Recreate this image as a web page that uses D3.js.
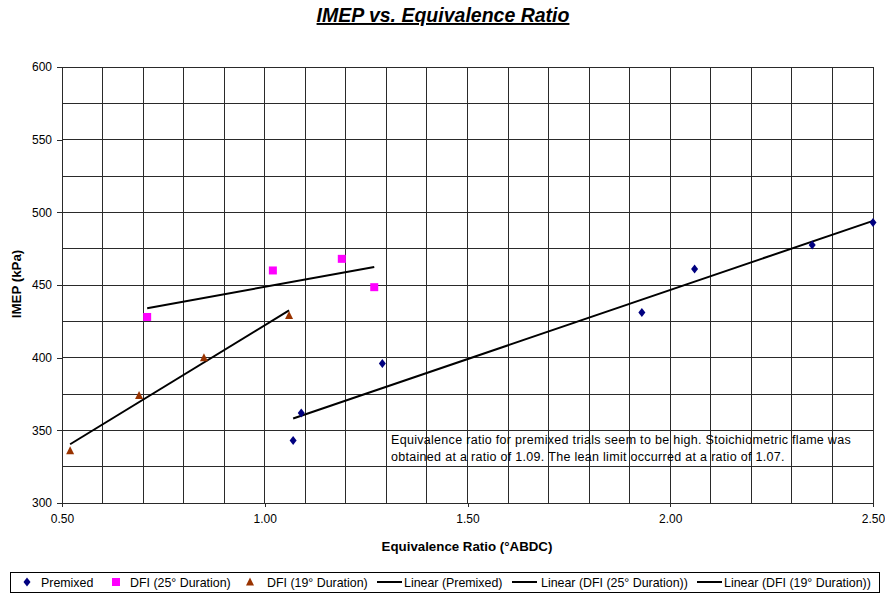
<!DOCTYPE html>
<html>
<head>
<meta charset="utf-8">
<script src="https://cdn.jsdelivr.net/npm/d3@7"></script>
<style>
  html, body { margin: 0; padding: 0; background: #fff; }
  svg { display: block; font-family: "Liberation Sans", Arial, sans-serif; }
</style>
</head>
<body>
<svg id="chart" width="885" height="594"></svg>
<script>
// Premixed trials
const premixedPhi  = [1.07, 1.09, 1.29, 1.93, 2.06, 2.35, 2.50];
const premixedImep = [343, 362, 396, 431, 461, 477.5, 493];
// Direct fuel injection, 25° injection duration
const dfi25Phi  = [0.71, 1.02, 1.19, 1.27];
const dfi25Imep = [428, 460, 468, 448.5];
// Direct fuel injection, 19° injection duration
const dfi19Phi  = [0.52, 0.69, 0.85, 1.06];
const dfi19Imep = [336, 374, 400, 429];

const xTicks = [0.5, 1.0, 1.5, 2.0, 2.5];
const yTicks = [300, 350, 400, 450, 500, 550, 600];
const legendLabels = ["Premixed", "DFI (25° Duration)", "DFI (19° Duration)",
  "Linear (Premixed)", "Linear (DFI (25° Duration))", "Linear (DFI (19° Duration))"];

const svg = d3.select("#chart");
const plot = { left: 62, right: 873, top: 67, bottom: 503 };

const x = d3.scaleLinear().domain([0.5, 2.5]).range([plot.left, plot.right]);
const y = d3.scaleLinear().domain([300, 600]).range([plot.bottom, plot.top]);

// Grid: vertical every 0.1, horizontal every 25 kPa
const grid = svg.append("g").attr("stroke", "#2a2a2a").attr("stroke-width", 1).attr("shape-rendering", "crispEdges");
d3.range(0, 21).map(i => 0.5 + i * 0.1).forEach(v => {
  grid.append("line").attr("x1", x(v)).attr("x2", x(v)).attr("y1", plot.top).attr("y2", plot.bottom);
});
d3.range(300, 601, 25).forEach(v => {
  grid.append("line").attr("x1", plot.left).attr("x2", plot.right).attr("y1", y(v)).attr("y2", y(v));
});

// Axes
const xAxis = svg.append("g").attr("transform", `translate(0,${plot.bottom})`)
  .call(d3.axisBottom(x).tickValues(xTicks).tickFormat(d3.format(".2f")).tickSize(4).tickPadding(7));
const yAxis = svg.append("g").attr("transform", `translate(${plot.left},0)`)
  .call(d3.axisLeft(y).tickValues(yTicks).tickFormat(d3.format("d")).tickSize(5).tickPadding(5));
[xAxis, yAxis].forEach(a => {
  a.select(".domain").attr("stroke", "#2a2a2a").attr("shape-rendering", "crispEdges");
  a.selectAll(".tick line").attr("stroke", "#2a2a2a").attr("shape-rendering", "crispEdges");
  a.selectAll("text").attr("font-size", 12).attr("fill", "#000")
    .attr("font-family", "'Liberation Sans', Arial, sans-serif");
});

// Least-squares trendline over the x-range of each series
function trend(xs, ys) {
  const mx = d3.mean(xs), my = d3.mean(ys);
  const sxy = d3.sum(xs, (v, i) => (v - mx) * (ys[i] - my));
  const sxx = d3.sum(xs, v => (v - mx) * (v - mx));
  const b = sxy / sxx, a = my - b * mx;
  const x0 = d3.min(xs), x1 = d3.max(xs);
  return [[x0, a + b * x0], [x1, a + b * x1]];
}
const line = d3.line().x(d => x(d[0])).y(d => y(d[1]));
[[premixedPhi, premixedImep], [dfi25Phi, dfi25Imep], [dfi19Phi, dfi19Imep]].forEach(([xs, ys]) => {
  svg.append("path").attr("d", line(trend(xs, ys)))
    .attr("fill", "none").attr("stroke", "#000").attr("stroke-width", 2);
});

// Markers
const diamond = (g, cx, cy) => g.append("path")
  .attr("d", `M${cx},${cy - 4.5}L${cx + 3.5},${cy}L${cx},${cy + 4.5}L${cx - 3.5},${cy}Z`).attr("fill", "#000080");
const square = (g, cx, cy) => g.append("rect")
  .attr("x", cx - 4).attr("y", cy - 4).attr("width", 8).attr("height", 8).attr("fill", "#ff00ff");
const triangle = (g, cx, cy) => g.append("path")
  .attr("d", `M${cx},${cy - 4.5}L${cx + 4},${cy + 3.5}L${cx - 4},${cy + 3.5}Z`).attr("fill", "#993300");

const marks = svg.append("g");
premixedPhi.forEach((v, i) => diamond(marks, x(v), y(premixedImep[i])));
dfi25Phi.forEach((v, i) => square(marks, x(v), y(dfi25Imep[i])));
dfi19Phi.forEach((v, i) => triangle(marks, x(v), y(dfi19Imep[i])));

// Note
const note = svg.append("text").attr("font-size", 12.5).attr("letter-spacing", 0.3).attr("fill", "#000");
note.append("tspan").attr("x", 391).attr("y", 444)
  .text("Equivalence ratio for premixed trials seem to be high. Stoichiometric flame was");
note.append("tspan").attr("x", 391).attr("y", 461)
  .text("obtained at a ratio of 1.09. The lean limit occurred at a ratio of 1.07.");

// Title and axis titles
svg.append("text").attr("x", 443).attr("y", 22).attr("text-anchor", "middle")
  .attr("font-size", 19.5).attr("font-weight", "bold").attr("font-style", "italic")
  .attr("text-decoration", "underline").text("IMEP vs. Equivalence Ratio");
svg.append("text").attr("x", 467).attr("y", 551).attr("text-anchor", "middle")
  .attr("font-size", 13.3).attr("font-weight", "bold").text("Equivalence Ratio (°ABDC)");
svg.append("text").attr("transform", "translate(21,284) rotate(-90)").attr("text-anchor", "middle")
  .attr("font-size", 13.3).attr("font-weight", "bold").text("IMEP (kPa)");

// Legend
const lg = svg.append("g");
lg.append("rect").attr("x", 10.5).attr("y", 572.5).attr("width", 869).attr("height", 20)
  .attr("fill", "#fff").attr("stroke", "#000").attr("stroke-width", 1);
const ly = 582;
const items = [
  { kind: "diamond", sx: 27, tx: 41 },
  { kind: "square", sx: 116, tx: 130 },
  { kind: "triangle", sx: 250, tx: 267 },
  { kind: "line", sx: 377, tx: 404 },
  { kind: "line", sx: 512, tx: 541 },
  { kind: "line", sx: 697, tx: 724 }
];
items.forEach((it, i) => {
  if (it.kind === "diamond") diamond(lg, it.sx, ly);
  else if (it.kind === "square") square(lg, it.sx, ly);
  else if (it.kind === "triangle") triangle(lg, it.sx, ly);
  else lg.append("line").attr("x1", it.sx).attr("x2", it.sx + 25).attr("y1", ly).attr("y2", ly)
    .attr("stroke", "#000").attr("stroke-width", 2);
  lg.append("text").attr("x", it.tx).attr("y", ly + 4.5).attr("font-size", 12.4).text(legendLabels[i]);
});
</script>
</body>
</html>
